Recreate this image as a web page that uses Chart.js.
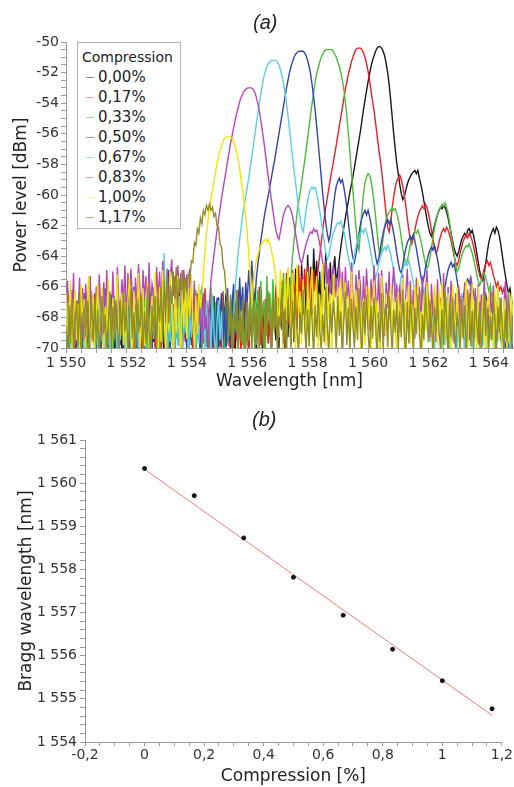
<!DOCTYPE html>
<html lang="en">
<head>
<meta charset="UTF-8">
<title>FBG spectra under compression</title>
<script src="https://cdn.jsdelivr.net/npm/chart.js"></script>
<style>
  body { margin: 0; background: #fff; }
  #wrap { position: relative; width: 514px; height: 787px; font-family: "DejaVu Sans", sans-serif; }
  canvas { position: absolute; left: 0; }
  #chartA { top: 0; }
  #chartB { top: 395px; }
  .panel-title { position: absolute; font: italic 20px "Liberation Sans", Arial, sans-serif; color: #222; line-height: 24px; }
  #legendA { position: absolute; left: 77px; top: 42px; width: 104px; height: 187px; box-sizing: border-box;
             border: 1px solid #b4b4b4; background: #fff; padding: 4px 0 0 4px; color: #222; }
  #legendA .ttl { font-size: 14px; line-height: 20px; }
  #legendA .item { font-size: 15px; line-height: 20px; white-space: nowrap; }
  #legendA .mark { display: inline-block; width: 8px; height: 1px; vertical-align: middle; margin: 0 4px 0 4px; }
</style>
</head>
<body>
<div id="wrap">
  <canvas id="chartA" width="514" height="395"></canvas>
  <canvas id="chartB" width="514" height="392"></canvas>
  <div class="panel-title" style="left:253px; top:10px;">(a)</div>
  <div class="panel-title" style="left:252px; top:407px;">(b)</div>
  <div id="legendA"></div>
</div>

<script>
// ---- panel (a): measured spectra on a 0.05 nm grid ----
const wavelength = [
  1550.00,1550.05,1550.10,1550.15,1550.20,1550.25,1550.30,1550.35,1550.40,1550.45,1550.50,1550.55,1550.60,1550.65,1550.70,1550.75,1550.80,1550.85,1550.90,1550.95,
  1551.00,1551.05,1551.10,1551.15,1551.20,1551.25,1551.30,1551.35,1551.40,1551.45,1551.50,1551.55,1551.60,1551.65,1551.70,1551.75,1551.80,1551.85,1551.90,1551.95,
  1552.00,1552.05,1552.10,1552.15,1552.20,1552.25,1552.30,1552.35,1552.40,1552.45,1552.50,1552.55,1552.60,1552.65,1552.70,1552.75,1552.80,1552.85,1552.90,1552.95,
  1553.00,1553.05,1553.10,1553.15,1553.20,1553.25,1553.30,1553.35,1553.40,1553.45,1553.50,1553.55,1553.60,1553.65,1553.70,1553.75,1553.80,1553.85,1553.90,1553.95,
  1554.00,1554.05,1554.10,1554.15,1554.20,1554.25,1554.30,1554.35,1554.40,1554.45,1554.50,1554.55,1554.60,1554.65,1554.70,1554.75,1554.80,1554.85,1554.90,1554.95,
  1555.00,1555.05,1555.10,1555.15,1555.20,1555.25,1555.30,1555.35,1555.40,1555.45,1555.50,1555.55,1555.60,1555.65,1555.70,1555.75,1555.80,1555.85,1555.90,1555.95,
  1556.00,1556.05,1556.10,1556.15,1556.20,1556.25,1556.30,1556.35,1556.40,1556.45,1556.50,1556.55,1556.60,1556.65,1556.70,1556.75,1556.80,1556.85,1556.90,1556.95,
  1557.00,1557.05,1557.10,1557.15,1557.20,1557.25,1557.30,1557.35,1557.40,1557.45,1557.50,1557.55,1557.60,1557.65,1557.70,1557.75,1557.80,1557.85,1557.90,1557.95,
  1558.00,1558.05,1558.10,1558.15,1558.20,1558.25,1558.30,1558.35,1558.40,1558.45,1558.50,1558.55,1558.60,1558.65,1558.70,1558.75,1558.80,1558.85,1558.90,1558.95,
  1559.00,1559.05,1559.10,1559.15,1559.20,1559.25,1559.30,1559.35,1559.40,1559.45,1559.50,1559.55,1559.60,1559.65,1559.70,1559.75,1559.80,1559.85,1559.90,1559.95,
  1560.00,1560.05,1560.10,1560.15,1560.20,1560.25,1560.30,1560.35,1560.40,1560.45,1560.50,1560.55,1560.60,1560.65,1560.70,1560.75,1560.80,1560.85,1560.90,1560.95,
  1561.00,1561.05,1561.10,1561.15,1561.20,1561.25,1561.30,1561.35,1561.40,1561.45,1561.50,1561.55,1561.60,1561.65,1561.70,1561.75,1561.80,1561.85,1561.90,1561.95,
  1562.00,1562.05,1562.10,1562.15,1562.20,1562.25,1562.30,1562.35,1562.40,1562.45,1562.50,1562.55,1562.60,1562.65,1562.70,1562.75,1562.80,1562.85,1562.90,1562.95,
  1563.00,1563.05,1563.10,1563.15,1563.20,1563.25,1563.30,1563.35,1563.40,1563.45,1563.50,1563.55,1563.60,1563.65,1563.70,1563.75,1563.80,1563.85,1563.90,1563.95,
  1564.00,1564.05,1564.10,1564.15,1564.20,1564.25,1564.30,1564.35,1564.40,1564.45,1564.50,1564.55,1564.60,1564.65,1564.70,1564.75,1564.80
];

// 0,00 %
const power000 = [
  -68.2,-66.1,-70.4,-67.3,-69.6,-66.8,-70.9,-67.9,-69.0,-66.4,-70.2,-68.5,-66.9,-69.8,-67.2,-70.6,-68.0,-66.5,-69.3,-67.6,
  -70.1,-66.7,-68.8,-70.5,-67.0,-69.4,-66.2,-68.3,-70.8,-67.5,-69.1,-66.6,-70.3,-68.1,-67.4,-69.9,-66.9,-70.6,-68.6,-67.1,
  -69.5,-66.3,-70.7,-67.8,-68.9,-66.5,-70.0,-67.6,-69.7,-66.8,-68.4,-70.4,-67.2,-69.2,-66.0,-70.9,-68.2,-67.0,-69.6,-66.6,
  -70.3,-67.7,-69.0,-66.4,-68.6,-70.5,-66.9,-69.3,-67.4,-70.1,-66.7,-68.7,-70.6,-67.1,-69.8,-66.2,-68.0,-70.2,-67.5,-69.4,
  -66.8,-70.4,-68.3,-67.0,-69.7,-66.5,-70.8,-67.9,-68.8,-66.3,-70.0,-67.6,-69.5,-66.9,-68.1,-70.7,-67.3,-69.2,-66.6,-70.3,
  -68.5,-66.7,-69.9,-67.2,-70.5,-68.0,-66.4,-69.6,-67.8,-70.2,-66.9,-68.7,-70.6,-67.0,-69.1,-66.5,-70.0,-68.4,-67.4,-69.8,
  -66.6,-70.3,-67.7,-69.4,-66.2,-68.9,-70.7,-67.1,-69.0,-66.8,-70.1,-67.5,-68.6,-66.4,-69.7,-67.9,-70.4,-66.7,-68.2,-69.5,
  -67.2,-70.0,-66.5,-68.8,-67.6,-70.2,-66.1,-69.3,-65.4,-68.0,-66.3,-69.6,-64.8,-67.4,-65.7,-68.9,-64.5,-66.9,-65.2,-68.3,
  -63.9,-66.6,-64.7,-67.8,-63.5,-65.9,-64.3,-67.1,-65.0,-68.4,-64.6,-66.2,-63.8,-65.5,-67.0,-64.4,-66.5,-65.2,-64.0,-65.8,
  -65.0,-64.2,-63.4,-62.7,-62.1,-61.5,-60.9,-60.4,-59.8,-59.3,-58.8,-58.2,-57.6,-57.0,-56.4,-55.8,-55.1,-54.4,-53.8,-53.2,
  -52.6,-52.1,-51.6,-51.2,-50.9,-50.6,-50.4,-50.3,-50.3,-50.4,-50.6,-50.9,-51.4,-52.0,-52.8,-53.8,-54.9,-56.0,-57.0,-57.9,
  -58.6,-59.3,-59.9,-60.3,-60.1,-59.7,-59.3,-59.0,-58.8,-58.6,-58.5,-58.4,-58.6,-58.4,-58.9,-59.3,-59.8,-60.4,-61.0,-61.6,
  -62.1,-62.5,-62.7,-62.4,-62.0,-61.6,-61.3,-61.0,-60.8,-60.9,-60.7,-60.8,-61.1,-61.5,-62.0,-62.5,-63.0,-63.5,-63.8,-64.0,
  -63.7,-63.3,-62.9,-62.7,-62.5,-62.7,-62.3,-62.2,-62.5,-62.3,-62.7,-63.2,-63.8,-64.4,-65.0,-65.4,-65.6,-65.1,-64.4,-63.7,
  -63.1,-62.7,-62.4,-62.2,-62.5,-62.1,-62.3,-62.7,-63.3,-64.0,-64.7,-65.3,-65.9,-66.4,-66.1,-66.8,-67.3
];
// 0,17 %
const power017 = [
  -69.0,-66.6,-70.5,-67.9,-68.4,-66.2,-70.1,-67.6,-69.3,-66.5,-68.8,-70.7,-67.3,-69.9,-66.8,-68.2,-70.3,-67.0,-69.5,-66.4,
  -68.6,-70.9,-66.9,-69.2,-67.5,-70.4,-66.3,-68.7,-69.8,-67.1,-70.6,-66.7,-68.1,-69.6,-66.0,-70.2,-67.8,-69.0,-66.5,-68.9,
  -70.0,-67.4,-69.1,-66.1,-68.5,-70.8,-67.2,-69.7,-66.6,-68.3,-70.5,-66.9,-69.4,-67.7,-70.1,-66.4,-68.6,-69.9,-67.0,-70.4,
  -66.7,-69.5,-67.3,-70.6,-68.0,-66.2,-69.8,-67.5,-70.2,-66.8,-68.9,-67.1,-70.7,-66.5,-69.2,-67.9,-68.4,-70.3,-66.3,-69.6,
  -67.6,-70.1,-66.8,-68.7,-70.5,-67.0,-69.3,-66.4,-68.2,-70.9,-67.4,-69.7,-66.1,-68.8,-70.0,-67.2,-69.1,-66.6,-70.6,-68.0,
  -66.9,-69.4,-67.8,-70.2,-66.3,-68.5,-70.7,-67.3,-69.9,-66.7,-68.1,-70.4,-67.0,-69.5,-66.2,-68.9,-70.3,-67.6,-69.0,-66.5,
  -68.4,-70.6,-67.1,-69.2,-66.6,-70.0,-67.7,-68.6,-66.0,-69.8,-67.4,-70.5,-66.8,-68.3,-69.6,-67.2,-70.1,-66.4,-68.8,-65.9,
  -69.0,-66.7,-68.2,-65.6,-70.0,-67.3,-65.1,-68.5,-66.2,-69.4,-64.9,-67.0,-65.7,-68.8,-64.6,-66.9,-65.3,-67.8,-64.8,-66.0,
  -64.6,-66.8,-65.2,-67.5,-64.9,-66.3,-65.5,-64.8,-64.0,-63.1,-62.3,-61.5,-60.8,-60.2,-59.6,-59.0,-58.4,-57.9,-57.3,-56.7,
  -56.1,-55.5,-54.9,-54.3,-53.7,-53.1,-52.6,-52.1,-51.7,-51.3,-51.0,-50.7,-50.5,-50.4,-50.4,-50.4,-50.5,-50.7,-51.0,-51.4,
  -51.9,-52.5,-53.2,-53.9,-54.5,-55.3,-56.1,-56.9,-57.6,-58.4,-59.3,-60.3,-61.3,-62.1,-62.4,-61.8,-60.9,-60.1,-59.5,-59.1,
  -58.9,-58.7,-59.0,-59.4,-60.0,-60.7,-61.5,-62.3,-62.9,-63.2,-62.8,-62.3,-61.8,-61.4,-61.1,-60.9,-60.7,-60.9,-60.6,-60.8,
  -61.2,-61.7,-62.3,-62.9,-63.4,-63.8,-63.6,-63.1,-62.7,-62.4,-62.2,-62.4,-62.1,-62.3,-62.6,-63.0,-63.5,-64.0,-64.4,-64.6,
  -64.3,-63.8,-63.4,-63.0,-62.8,-62.6,-62.8,-62.5,-62.7,-63.0,-63.4,-63.9,-64.4,-64.9,-65.3,-65.5,-65.2,-64.8,-64.5,-64.3,
  -64.6,-64.4,-64.8,-65.2,-65.6,-66.0,-65.7,-66.2,-66.0,-66.4,-66.1,-66.6,-67.0,-67.5,-68.0,-68.6,-69.1
];
// 0,33 %
const power033 = [
  -67.8,-70.3,-66.9,-69.1,-67.4,-70.6,-66.3,-68.5,-69.9,-67.0,-70.2,-66.7,-68.9,-67.5,-70.8,-66.1,-69.4,-67.9,-68.3,-70.5,
  -66.6,-69.0,-67.2,-70.4,-66.9,-68.6,-70.1,-67.7,-69.6,-66.4,-68.0,-70.7,-67.1,-69.3,-66.8,-70.0,-67.6,-68.8,-66.2,-69.8,
  -70.3,-67.3,-68.7,-66.5,-69.5,-67.8,-70.6,-66.0,-68.4,-70.2,-67.0,-69.2,-66.6,-68.1,-70.9,-67.4,-69.7,-66.3,-68.9,-67.6,
  -69.1,-66.8,-70.4,-67.9,-68.2,-66.1,-69.8,-67.3,-70.5,-66.7,-68.6,-70.0,-67.5,-69.4,-65.9,-68.0,-70.3,-66.9,-69.2,-67.2,
  -68.5,-70.7,-66.4,-69.0,-67.7,-70.1,-66.2,-68.8,-69.6,-67.1,-70.4,-66.6,-68.3,-69.9,-67.4,-70.6,-66.0,-68.7,-69.3,-67.0,
  -70.2,-67.6,-69.4,-66.5,-68.1,-70.8,-66.9,-69.7,-67.3,-68.6,-70.0,-66.3,-69.1,-67.8,-70.5,-66.7,-68.4,-69.8,-67.2,-70.3,
  -66.8,-69.5,-67.0,-68.9,-65.8,-70.1,-67.5,-66.2,-69.3,-65.6,-68.0,-66.9,-70.4,-65.3,-67.7,-66.4,-69.0,-65.5,-67.3,-68.6,
  -66.8,-68.9,-65.6,-67.7,-65.1,-68.2,-66.0,-64.9,-67.3,-65.5,-64.0,-63.0,-62.1,-61.2,-60.5,-59.9,-59.2,-58.5,-57.8,-57.1,
  -56.3,-55.5,-54.7,-54.0,-53.3,-52.6,-52.1,-51.7,-51.3,-51.0,-50.8,-50.6,-50.5,-50.5,-50.5,-50.5,-50.5,-50.6,-50.8,-51.0,
  -51.3,-51.6,-52.0,-52.5,-53.1,-53.9,-54.9,-56.0,-57.2,-58.5,-59.7,-60.9,-62.1,-63.2,-63.6,-62.4,-61.0,-59.9,-59.2,-58.8,
  -58.6,-58.7,-59.1,-59.7,-60.5,-61.4,-62.4,-63.4,-64.0,-63.6,-62.8,-62.1,-61.6,-61.3,-61.1,-61.0,-60.8,-61.0,-60.9,-61.2,
  -61.6,-62.1,-62.8,-63.5,-64.1,-64.5,-64.3,-63.8,-63.3,-62.9,-62.6,-62.4,-62.5,-62.3,-62.6,-63.0,-63.5,-64.0,-64.5,-64.8,
  -64.6,-64.1,-63.5,-62.8,-62.2,-61.7,-61.3,-61.0,-60.8,-60.6,-60.7,-60.5,-60.8,-61.2,-61.8,-62.5,-63.2,-63.9,-64.5,-65.0,
  -64.8,-64.4,-64.0,-63.7,-63.5,-63.3,-63.4,-63.2,-63.5,-63.8,-64.2,-64.7,-65.2,-65.6,-65.9,-65.6,-65.3,-65.1,-65.4,-65.8,
  -66.3,-65.9,-66.6,-67.1,-66.7,-67.4,-68.0,-67.5,-68.3,-68.9,-68.2,-69.0,-69.6,-68.8,-69.5,-70.2,-69.4
];
// 0,50 %
const power050 = [
  -66.6,-69.4,-67.9,-70.5,-66.2,-68.7,-67.3,-70.0,-66.9,-69.2,-67.6,-70.8,-66.4,-68.3,-69.7,-67.0,-70.3,-66.7,-68.9,-67.4,
  -69.9,-66.8,-68.4,-70.6,-67.2,-69.5,-66.1,-68.0,-70.2,-67.7,-66.5,-69.1,-67.5,-70.4,-66.9,-68.6,-69.8,-66.3,-70.7,-67.8,
  -68.2,-66.6,-70.1,-67.4,-69.3,-66.0,-68.8,-70.5,-67.1,-69.6,-66.7,-68.1,-70.9,-67.6,-69.0,-65.9,-68.5,-70.2,-66.8,-69.4,
  -67.3,-70.0,-66.4,-68.6,-65.5,-69.7,-67.0,-68.3,-64.9,-70.4,-66.5,-68.9,-67.6,-65.8,-69.2,-66.9,-70.6,-67.4,-65.2,-68.7,
  -70.1,-66.2,-68.4,-69.8,-67.1,-70.5,-66.6,-69.0,-67.8,-70.3,-66.0,-68.7,-69.5,-67.2,-70.8,-66.9,-68.2,-70.0,-67.5,-69.3,
  -66.7,-70.2,-68.0,-66.4,-69.6,-67.3,-70.7,-66.1,-68.8,-69.9,-67.0,-65.8,-69.1,-66.5,-68.3,-65.4,-67.6,-66.0,-68.9,-65.7,
  -67.0,-64.9,-66.5,-64.3,-65.8,-67.2,-65.5,-64.6,-63.8,-63.0,-62.3,-61.6,-61.0,-60.5,-60.0,-59.4,-58.9,-58.3,-57.8,-57.2,
  -56.6,-56.0,-55.4,-54.8,-54.2,-53.6,-53.0,-52.5,-52.0,-51.6,-51.3,-51.0,-50.8,-50.7,-50.6,-50.6,-50.6,-50.6,-50.7,-50.9,
  -51.2,-51.6,-52.1,-52.8,-53.6,-54.5,-55.5,-56.6,-57.7,-58.8,-59.9,-60.9,-61.8,-62.5,-63.0,-62.6,-61.7,-60.8,-60.0,-59.4,
  -59.1,-58.9,-59.2,-59.0,-59.5,-60.1,-60.9,-61.8,-62.7,-63.5,-64.1,-64.4,-63.9,-63.2,-62.5,-61.9,-61.5,-61.2,-61.0,-61.3,
  -61.0,-61.4,-61.9,-62.6,-63.3,-64.0,-64.5,-64.2,-63.6,-63.0,-62.5,-62.1,-61.8,-61.6,-61.9,-61.6,-62.0,-62.5,-63.1,-63.8,
  -64.4,-64.9,-65.1,-64.6,-64.0,-63.5,-63.1,-62.9,-62.7,-62.9,-62.6,-63.0,-63.5,-64.1,-64.7,-65.3,-65.8,-65.4,-64.8,-64.3,
  -63.9,-63.6,-63.4,-63.6,-63.3,-63.7,-64.2,-64.8,-65.5,-66.1,-66.5,-66.0,-65.4,-64.9,-64.6,-64.4,-64.7,-64.5,-65.0,-65.6,
  -66.2,-66.8,-67.3,-66.7,-66.1,-65.7,-65.5,-65.8,-65.4,-65.9,-66.5,-67.2,-67.9,-68.4,-67.7,-67.0,-66.6,-66.9,-66.5,-67.1,
  -67.8,-68.5,-69.0,-68.3,-67.8,-68.4,-67.9,-68.7,-69.4,-68.6,-69.3,-70.1,-69.2,-70.0,-69.5,-70.4,-69.7
];
// 0,67 %
const power067 = [
  -69.4,-67.0,-68.6,-70.5,-66.8,-69.9,-67.5,-68.2,-70.3,-66.5,-68.9,-67.3,-70.7,-66.9,-69.2,-67.8,-70.0,-66.3,-68.5,-69.7,
  -67.1,-70.4,-66.7,-68.8,-69.6,-67.4,-70.2,-66.0,-68.3,-70.6,-67.7,-69.1,-66.6,-68.0,-70.9,-67.2,-69.5,-66.4,-68.7,-70.1,
  -66.9,-69.3,-67.6,-70.5,-68.1,-66.2,-69.8,-67.0,-70.3,-66.8,-68.4,-69.7,-67.3,-70.0,-66.5,-68.9,-70.6,-67.5,-69.1,-66.1,
  -68.6,-70.2,-67.2,-69.4,-66.7,-63.8,-68.0,-70.7,-67.4,-69.6,-66.3,-68.8,-70.1,-67.1,-69.9,-66.6,-68.3,-70.4,-67.8,-69.0,
  -66.4,-70.8,-67.9,-69.3,-66.9,-68.5,-70.2,-67.0,-69.7,-66.2,-68.6,-67.4,-70.5,-66.8,-69.1,-67.7,-70.0,-66.5,-68.9,-70.6,
  -68.3,-66.9,-69.5,-67.6,-70.8,-71.5,-69.9,-71.8,-70.6,-72.0,-70.5,-68.0,-66.2,-64.9,-63.8,-62.9,-62.1,-61.3,-60.7,-60.1,
  -59.5,-58.9,-58.2,-57.5,-56.8,-56.1,-55.4,-54.7,-54.0,-53.4,-52.8,-52.3,-51.9,-51.6,-51.4,-51.3,-51.2,-51.2,-51.2,-51.2,
  -51.3,-51.5,-51.8,-52.2,-52.7,-53.3,-54.0,-54.8,-55.7,-56.6,-57.5,-58.4,-59.2,-60.0,-60.8,-61.5,-62.1,-62.4,-61.8,-61.0,
  -60.4,-59.9,-59.6,-59.5,-59.6,-59.5,-59.9,-60.4,-61.0,-61.7,-62.4,-63.1,-63.7,-64.2,-64.0,-63.4,-62.9,-62.5,-62.2,-62.0,
  -61.8,-61.9,-61.7,-62.0,-62.4,-62.9,-63.5,-64.1,-64.6,-65.0,-64.6,-64.0,-63.4,-63.0,-62.7,-62.5,-62.3,-62.5,-62.2,-62.4,
  -62.8,-63.3,-63.9,-64.5,-65.0,-65.4,-65.1,-64.6,-64.1,-63.8,-63.6,-63.4,-63.6,-63.3,-63.5,-63.9,-64.4,-65.0,-65.6,-66.1,
  -66.4,-65.9,-65.3,-64.9,-64.6,-64.4,-64.6,-64.3,-64.7,-65.2,-65.8,-66.4,-67.0,-67.4,-66.9,-66.4,-66.1,-66.3,-66.0,-66.5,
  -67.2,-69.6,-66.8,-68.9,-70.3,-67.5,-69.2,-66.5,-68.4,-70.7,-67.0,-69.8,-66.7,-68.2,-70.1,-67.4,-69.5,-66.9,-68.7,-70.4,
  -67.7,-69.0,-66.4,-68.6,-70.5,-67.2,-69.7,-66.8,-68.1,-70.2,-67.5,-69.3,-66.6,-68.8,-70.6,-67.1,-69.9,-66.3,-68.5,-70.0,
  -67.6,-69.4,-66.9,-68.3,-70.8,-67.3,-69.6,-66.7,-68.9,-70.3,-67.8,-69.1,-66.5,-68.6,-70.5,-67.4,-69.8
];
// 0,83 %
const power083 = [
  -67.5,-65.6,-69.2,-66.3,-68.4,-65.1,-69.8,-66.9,-67.7,-65.4,-68.9,-66.1,-69.5,-65.8,-67.2,-69.0,-65.3,-68.1,-66.6,-69.6,
  -66.0,-68.7,-65.2,-67.4,-69.3,-65.7,-68.0,-64.9,-67.8,-66.3,-69.1,-65.0,-67.6,-68.8,-64.7,-66.9,-68.3,-65.5,-67.1,-64.6,
  -68.5,-65.1,-67.0,-64.8,-66.7,-68.9,-65.4,-67.3,-64.5,-66.2,-68.1,-64.9,-66.8,-65.3,-68.6,-64.4,-67.5,-65.8,-66.4,-68.2,
  -64.7,-66.9,-65.0,-67.6,-64.3,-66.1,-68.4,-64.8,-67.2,-65.5,-64.2,-66.6,-65.3,-68.0,-64.6,-66.4,-65.1,-67.7,-64.9,-66.3,
  -65.2,-67.4,-64.8,-66.9,-68.2,-65.6,-69.0,-66.7,-68.5,-67.1,-69.6,-66.4,-68.8,-67.9,-70.3,-67.0,-65.6,-64.7,-63.9,-63.1,
  -62.3,-61.6,-60.9,-60.2,-59.6,-59.0,-58.4,-57.8,-57.2,-56.6,-56.1,-55.6,-55.1,-54.7,-54.3,-53.9,-53.6,-53.4,-53.2,-53.1,
  -53.0,-53.0,-53.0,-53.0,-53.1,-53.3,-53.6,-54.0,-54.5,-55.1,-55.8,-56.5,-57.3,-58.1,-58.9,-59.6,-60.3,-61.0,-61.7,-62.3,
  -62.7,-62.9,-62.4,-61.8,-61.3,-61.0,-60.8,-60.7,-60.8,-61.0,-61.4,-61.9,-62.5,-63.1,-63.7,-64.2,-64.5,-64.1,-63.6,-63.2,
  -62.9,-62.6,-62.4,-62.5,-62.2,-62.4,-62.3,-62.7,-63.2,-63.8,-64.4,-65.0,-64.3,-66.1,-64.8,-67.0,-65.2,-64.6,-66.7,-65.4,
  -67.3,-64.5,-66.2,-65.0,-68.1,-64.7,-66.8,-65.6,-67.9,-64.4,-66.5,-68.6,-65.2,-67.1,-64.9,-66.0,-68.4,-65.3,-67.5,-64.8,
  -66.7,-68.9,-65.5,-67.2,-64.6,-66.3,-68.0,-65.1,-67.8,-64.9,-66.6,-69.2,-65.7,-67.4,-65.0,-68.3,-66.1,-64.7,-67.0,-65.8,
  -68.5,-65.9,-67.6,-65.2,-69.0,-66.4,-64.8,-67.7,-65.6,-68.1,-66.2,-69.4,-65.4,-67.3,-66.0,-68.7,-65.3,-67.9,-66.5,-64.9,
  -67.1,-69.3,-65.8,-68.0,-66.3,-69.6,-65.5,-67.4,-66.7,-68.8,-65.1,-67.9,-69.1,-66.0,-68.2,-65.6,-67.5,-69.7,-66.4,-68.6,
  -65.9,-68.4,-66.6,-69.2,-65.7,-67.8,-66.2,-69.5,-65.3,-67.6,-68.9,-66.1,-68.3,-65.8,-69.8,-66.5,-67.9,-65.4,-68.7,-66.8,
  -69.0,-66.3,-68.1,-65.9,-67.6,-69.4,-66.0,-68.5,-66.7,-69.9,-67.2,-65.6,-68.3,-66.9,-69.1,-67.4,-68.8
];
// 1,00 %
const power100 = [
  -66.4,-69.2,-67.7,-65.6,-70.3,-68.0,-66.2,-69.5,-67.1,-70.6,-65.9,-68.4,-66.8,-70.1,-67.5,-65.3,-69.7,-68.2,-66.5,-70.4,
  -67.9,-65.8,-69.6,-68.1,-66.0,-70.2,-67.3,-69.0,-65.5,-68.6,-70.5,-66.7,-69.3,-67.6,-65.2,-70.0,-68.3,-66.4,-69.8,-67.0,
  -70.3,-66.9,-65.4,-68.8,-70.6,-66.3,-69.1,-67.4,-65.1,-70.0,-68.5,-66.1,-69.9,-67.2,-65.6,-70.4,-68.0,-66.6,-69.4,-65.0,
  -68.2,-70.7,-66.0,-69.6,-64.9,-67.8,-70.5,-66.5,-68.9,-65.0,-67.3,-70.2,-66.4,-69.0,-65.3,-68.1,-70.6,-66.2,-68.6,-65.7,
  -69.4,-66.1,-67.9,-65.2,-68.5,-70.0,-66.6,-69.1,-65.8,-67.4,-66.5,-65.0,-63.7,-62.6,-61.7,-60.9,-60.3,-59.7,-59.1,-58.5,
  -58.0,-57.5,-57.1,-56.8,-56.5,-56.3,-56.2,-56.2,-56.2,-56.2,-56.3,-56.5,-56.8,-57.2,-57.7,-58.3,-59.0,-59.7,-60.5,-61.4,
  -62.5,-63.8,-65.4,-67.2,-66.0,-65.0,-64.3,-63.9,-63.6,-63.3,-63.1,-63.0,-62.9,-63.1,-62.9,-63.2,-63.6,-64.1,-64.7,-65.4,
  -66.8,-69.3,-64.9,-67.5,-70.1,-65.4,-68.2,-64.7,-66.9,-69.6,-65.1,-67.8,-70.4,-64.6,-68.0,-66.3,-69.7,-65.5,-67.2,-70.0,
  -65.0,-68.6,-66.1,-64.8,-69.4,-67.0,-65.3,-70.2,-66.5,-68.8,-64.5,-67.6,-69.9,-65.8,-68.1,-66.4,-70.5,-65.2,-67.9,-69.0,
  -66.0,-68.5,-65.4,-70.3,-67.1,-65.7,-69.2,-66.6,-70.6,-65.0,-67.7,-69.6,-66.2,-68.3,-65.5,-70.1,-67.4,-66.8,-69.8,-65.9,
  -68.7,-66.1,-70.4,-67.3,-65.6,-69.5,-66.9,-68.0,-70.7,-65.3,-67.8,-69.1,-66.4,-70.0,-67.2,-65.8,-69.3,-66.7,-68.4,-70.5,
  -66.3,-69.0,-67.5,-65.4,-70.2,-66.8,-68.6,-65.9,-69.7,-67.1,-70.4,-66.0,-68.2,-65.5,-69.4,-67.6,-70.6,-66.5,-68.9,-65.7,
  -69.2,-66.6,-68.0,-70.3,-65.9,-67.4,-69.8,-66.2,-68.7,-65.6,-70.0,-67.0,-69.5,-66.4,-68.3,-70.6,-65.8,-67.7,-69.1,-66.1,
  -68.4,-70.5,-66.7,-69.3,-67.2,-65.5,-70.1,-66.9,-68.6,-65.8,-69.6,-67.4,-70.3,-66.0,-68.1,-69.8,-66.5,-68.9,-70.4,-67.0,
  -66.6,-69.0,-67.7,-70.2,-66.2,-68.8,-65.9,-69.4,-67.3,-70.6,-66.8,-68.5,-70.0,-67.1,-69.7,-66.4,-68.2
];
// 1,17 %
const power117 = [
  -68.6,-70.4,-67.2,-69.7,-66.8,-70.1,-68.3,-67.0,-69.9,-66.5,-70.6,-68.0,-67.4,-69.3,-66.9,-70.8,-68.5,-67.1,-69.6,-66.7,
  -69.8,-67.5,-70.5,-68.2,-66.6,-69.1,-67.8,-70.3,-68.7,-66.4,-70.0,-67.3,-69.5,-66.9,-68.4,-70.7,-67.0,-69.2,-66.3,-68.9,
  -67.4,-70.2,-68.6,-66.2,-69.4,-67.7,-70.6,-66.8,-69.0,-68.1,-66.5,-70.3,-67.6,-69.7,-66.0,-68.8,-70.4,-67.2,-69.3,-66.6,
  -70.1,-66.7,-68.3,-66.0,-69.5,-65.6,-67.9,-65.3,-68.4,-65.9,-67.1,-65.0,-66.8,-64.7,-67.4,-65.5,-66.2,-64.9,-66.9,-65.4,
  -66.4,-65.2,-65.6,-64.3,-64.4,-63.1,-63.3,-62.2,-62.5,-61.5,-61.9,-61.0,-61.3,-60.7,-61.0,-60.6,-61.0,-60.8,-61.4,-61.2,
  -62.0,-62.1,-63.2,-63.4,-64.6,-65.0,-66.3,-67.0,-69.2,-66.5,-70.4,-67.8,-68.9,-66.2,-70.0,-67.5,-69.6,-66.8,-70.7,-68.1,
  -67.0,-69.5,-66.4,-70.2,-68.0,-66.9,-69.8,-67.3,-70.5,-66.6,-68.7,-70.1,-67.6,-69.2,-66.3,-68.4,-70.6,-67.1,-69.0,-66.7,
  -70.3,-67.9,-68.6,-66.1,-69.7,-67.4,-70.8,-66.8,-68.2,-70.0,-67.0,-69.4,-66.5,-68.9,-70.4,-67.7,-69.1,-66.2,-68.5,-70.2,
  -67.5,-69.9,-66.7,-68.3,-70.6,-67.2,-69.3,-66.4,-68.8,-70.1,-67.8,-69.6,-66.0,-68.4,-70.5,-67.1,-69.0,-66.9,-68.1,-70.3,
  -66.6,-69.2,-67.6,-70.7,-68.0,-66.3,-69.8,-67.4,-70.2,-66.8,-68.6,-70.0,-67.3,-69.5,-66.1,-68.7,-70.4,-67.0,-69.1,-66.5,
  -68.9,-70.5,-67.2,-69.4,-66.7,-68.2,-70.8,-67.7,-69.6,-66.4,-70.1,-68.0,-67.1,-69.9,-66.6,-68.5,-70.3,-67.5,-69.0,-66.9,
  -70.0,-67.6,-69.3,-66.2,-68.8,-70.6,-67.0,-69.7,-66.8,-68.3,-70.2,-67.4,-69.1,-66.5,-68.6,-70.7,-67.8,-69.5,-66.3,-68.1,
  -69.6,-66.9,-68.4,-70.4,-67.3,-69.0,-66.6,-68.9,-70.1,-67.5,-69.8,-66.2,-68.0,-70.5,-67.1,-69.3,-66.7,-68.7,-70.2,-67.7,
  -68.5,-70.3,-66.8,-69.4,-67.2,-70.6,-68.1,-66.4,-69.9,-67.6,-70.0,-66.9,-68.3,-69.7,-67.0,-70.4,-68.6,-66.5,-69.2,-67.4,
  -70.1,-67.9,-69.5,-66.6,-68.2,-70.7,-67.3,-69.0,-66.8,-68.9,-70.3,-67.5,-69.6,-66.3,-68.4,-70.0,-67.8
];

const compressionLabels = ['0,00%', '0,17%', '0,33%', '0,50%', '0,67%', '0,83%', '1,00%', '1,17%'];
const spectra = [power000, power017, power033, power050, power067, power083, power100, power117];
const lineColors = ['#1a1a1a', '#e8202a', '#4cbb3a', '#3346a8', '#5ccfe0', '#b548b5', '#f2e600', '#8f8f24'];
const legendColors = ['#8a8a8a', '#e8a0b4', '#a4d8a0', '#9494c4', '#a4e2ec', '#e0a4d4', '#eeee9c', '#b4b484'];

// ---- panel (b): Bragg wavelength vs compression ----
const compression = [0, 0.167, 0.333, 0.5, 0.667, 0.833, 1.0, 1.167];
const braggWavelength = [1560.34, 1559.71, 1558.73, 1557.82, 1556.94, 1556.15, 1555.42, 1554.77];
const fitCompression = [0, 1.167];
const fitBragg = [1560.32, 1554.62];

Chart.defaults.font.family = 'DejaVu Sans';

function isMultiple(v, m) {
  return Math.abs(v / m - Math.round(v / m)) < 1e-6;
}
function spaced(v) {
  return String(Math.round(v)).replace(/\B(?=(\d{3})+(?!\d))/g, ' ');
}
function commaDec(v) {
  return String(Number(v.toFixed(1))).replace('.', ',');
}

// legend box of panel (a)
const legendBox = document.getElementById('legendA');
let html = '<div class="ttl">Compression</div>';
compressionLabels.forEach((lab, k) => {
  html += '<div class="item"><span class="mark" style="background:' + legendColors[k] + '"></span>' + lab + '</div>';
});
legendBox.innerHTML = html;

const axisColor = '#9a9a9a';
const tickFont = { size: 14, family: 'DejaVu Sans' };
const titleFont = { size: 17, family: 'DejaVu Sans' };

new Chart(document.getElementById('chartA'), {
  type: 'line',
  data: {
    datasets: spectra.map((s, k) => ({
      label: compressionLabels[k],
      data: wavelength.map((x, i) => ({ x: x, y: s[i] })),
      borderColor: lineColors[k],
      borderWidth: 1.4,
      pointRadius: 0,
      tension: 0,
      order: 7 - k
    }))
  },
  options: {
    responsive: false,
    animation: false,
    events: [],
    layout: { padding: { top: 42, right: 1, left: 0, bottom: 0 } },
    plugins: { legend: { display: false }, tooltip: { enabled: false } },
    scales: {
      x: {
        type: 'linear', min: 1550, max: 1564.8,
        afterFit(s) { s.height = 47; },
        border: { color: axisColor },
        grid: { drawOnChartArea: false, tickLength: 5, color: axisColor },
        ticks: { stepSize: 0.5, autoSkip: false, maxRotation: 0, includeBounds: false, padding: 2,
                 color: '#333', font: tickFont,
                 callback: v => isMultiple(v, 2) ? spaced(v) : '' },
        title: { display: true, text: 'Wavelength [nm]', color: '#222', font: titleFont, padding: { top: 0, bottom: 3 } }
      },
      y: {
        type: 'linear', min: -70, max: -50,
        afterFit(s) { s.width = 66; },
        border: { color: axisColor },
        grid: { drawOnChartArea: false, tickLength: 5, color: axisColor },
        ticks: { stepSize: 0.5, autoSkip: false, padding: 2, color: '#333', font: tickFont,
                 callback: v => isMultiple(v, 2) ? String(Math.round(v)) : '' },
        title: { display: true, text: 'Power level [dBm]', color: '#222', font: titleFont, padding: { top: 11, bottom: 0 } }
      }
    }
  }
});

new Chart(document.getElementById('chartB'), {
  type: 'scatter',
  data: {
    datasets: [
      {
        type: 'line',
        label: 'fit',
        data: fitCompression.map((x, i) => ({ x: x, y: fitBragg[i] })),
        borderColor: '#e38080',
        borderWidth: 1,
        pointRadius: 0,
        order: 1
      },
      {
        label: 'Bragg wavelength',
        data: compression.map((x, i) => ({ x: x, y: braggWavelength[i] })),
        backgroundColor: '#111',
        borderColor: '#111',
        pointRadius: 2,
        order: 0
      }
    ]
  },
  options: {
    responsive: false,
    animation: false,
    events: [],
    layout: { padding: { top: 45, right: 7, left: 0, bottom: 0 } },
    plugins: { legend: { display: false }, tooltip: { enabled: false } },
    scales: {
      x: {
        type: 'linear', min: -0.2, max: 1.2,
        afterFit(s) { s.height = 45; },
        border: { color: axisColor },
        grid: { drawOnChartArea: false, tickLength: 4, color: axisColor },
        ticks: { stepSize: 0.05, autoSkip: false, maxRotation: 0, includeBounds: false, padding: 1,
                 color: '#333', font: tickFont,
                 callback: v => isMultiple(v, 0.2) ? commaDec(v) : '' },
        title: { display: true, text: 'Compression [%]', color: '#222', font: titleFont, padding: { top: 0, bottom: 0 } }
      },
      y: {
        type: 'linear', min: 1554, max: 1561,
        afterFit(s) { s.width = 85; },
        border: { color: axisColor },
        grid: { drawOnChartArea: false, tickLength: 5, color: axisColor },
        ticks: { stepSize: 0.2, autoSkip: false, padding: 3, color: '#333', font: tickFont,
                 callback: v => isMultiple(v, 1) ? spaced(v) : '' },
        title: { display: true, text: 'Bragg wavelength [nm]', color: '#222', font: titleFont, padding: { top: 16, bottom: 0 } }
      }
    }
  }
});
</script>
</body>
</html>
